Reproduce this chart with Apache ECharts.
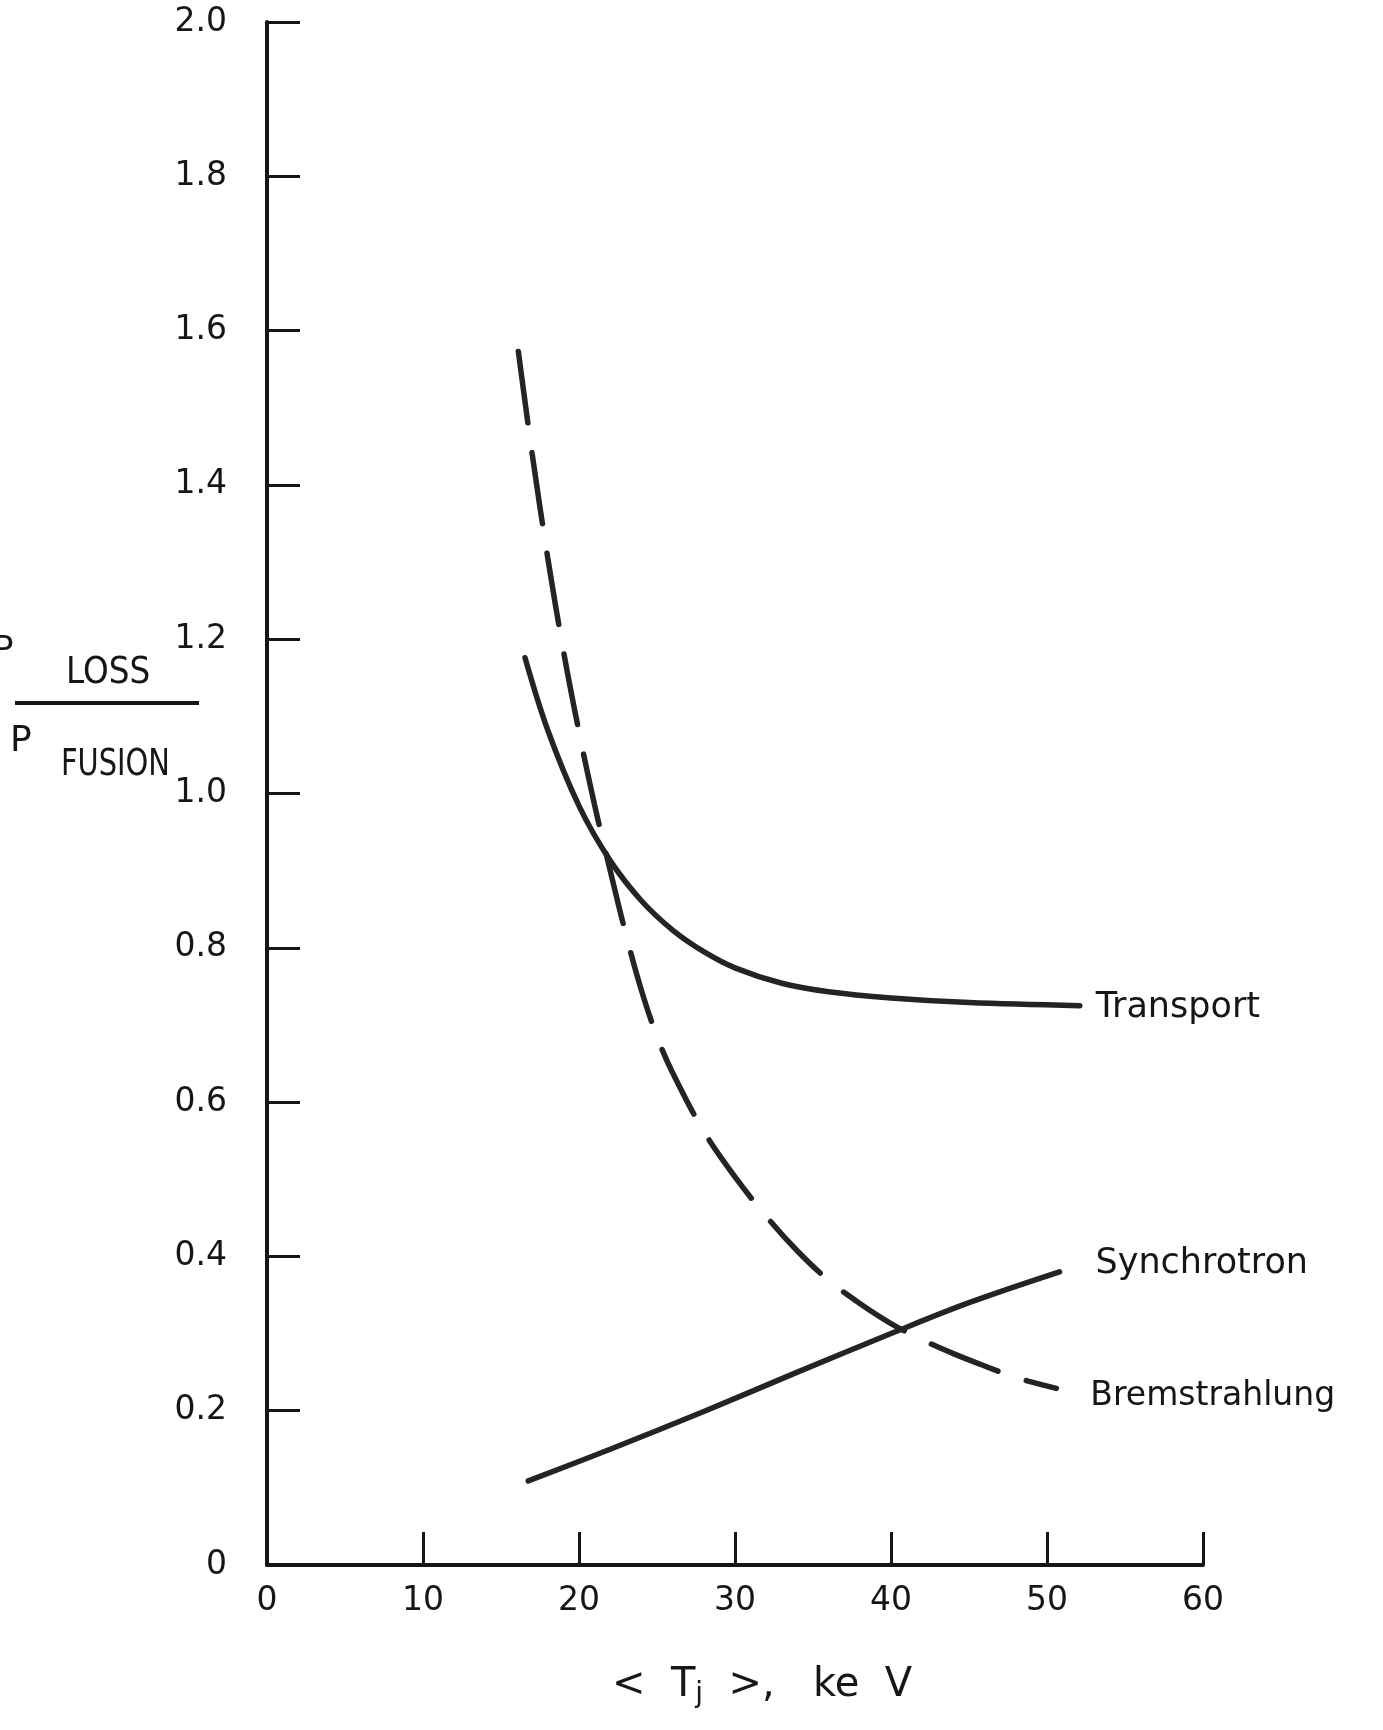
<!DOCTYPE html>
<html>
<head>
<meta charset="utf-8">
<script src="https://cdn.jsdelivr.net/npm/echarts@6/dist/echarts.min.js"></script>
<style>
  html, body { margin: 0; padding: 0; background: #fff; }
  #chart { width: 1383px; height: 1730px; }
</style>
</head>
<body>
<div id="chart"></div>
<script>
// ---- Data ----
const xTicks = [0, 10, 20, 30, 40, 50, 60];
const yTicks = [0, 0.2, 0.4, 0.6, 0.8, 1.0, 1.2, 1.4, 1.6, 1.8, 2.0];

const transportT = [16.54, 18, 20, 22, 24, 26, 28, 30, 33, 36, 40, 45, 52.1];
const transportV = [1.176, 1.082, 0.984, 0.913, 0.861, 0.823, 0.795, 0.774, 0.754, 0.743, 0.735, 0.729, 0.725];

const bremsT = [16.11, 17, 18, 19, 20, 21, 22, 23, 24, 25, 26, 28, 30, 32, 34, 36, 38, 40, 42, 44, 46, 48, 50.6];
const bremsV = [1.573, 1.44, 1.305, 1.185, 1.08, 0.985, 0.90, 0.818, 0.745, 0.685, 0.638, 0.562, 0.503, 0.452, 0.407, 0.369, 0.339, 0.313, 0.292, 0.274, 0.258, 0.243, 0.229];

const synchT = [16.75, 22, 28, 34, 40, 45, 50.8];
const synchV = [0.109, 0.150, 0.199, 0.250, 0.300, 0.340, 0.380];

const xName = '<  T{sub|j}  >,   ke  V';
const yNameTop = 'LOSS';
const yNameBottom = 'FUSION';

// ---- Helpers ----
const zip = (xs, ys) => xs.map((x, i) => [x, ys[i]]);
const FONT = 'DejaVu Sans';
const INK = '#161616';
const LINE = '#242424';

const chart = echarts.init(document.getElementById('chart'), null, { renderer: 'canvas' });

const lineBase = {
  type: 'line',
  smooth: 0.35,
  symbol: 'none',
  silent: true,
  animation: false
};

const option = {
  animation: false,
  backgroundColor: '#ffffff',
  grid: { left: 267, right: 180, top: 22, bottom: 165, containLabel: false },
  xAxis: {
    type: 'value',
    min: xTicks[0],
    max: xTicks[xTicks.length - 1],
    interval: 10,
    name: xName,
    nameLocation: 'middle',
    nameGap: 98,
    nameTextStyle: {
      fontFamily: FONT, fontSize: 40, color: INK,
      padding: [0, 0, 0, 54],
      rich: {
        sub: { fontFamily: FONT, fontSize: 28, color: INK, verticalAlign: 'bottom', padding: [18, 0, 0, 0] }
      }
    },
    axisLine: { show: true, onZero: false, lineStyle: { color: INK, width: 4 } },
    axisTick: { show: true, inside: true, length: 33, lineStyle: { color: INK, width: 3 } },
    axisLabel: { fontFamily: FONT, fontSize: 33, color: INK, margin: 20 },
    splitLine: { show: false }
  },
  yAxis: {
    type: 'value',
    min: yTicks[0],
    max: yTicks[yTicks.length - 1],
    interval: 0.2,
    axisLine: { show: true, onZero: false, lineStyle: { color: INK, width: 4 } },
    axisTick: { show: true, inside: true, length: 33, lineStyle: { color: INK, width: 3 } },
    axisLabel: {
      fontFamily: FONT, fontSize: 33, color: INK, margin: 40,
      formatter: v => (v === 0 ? '0' : v.toFixed(1))
    },
    splitLine: { show: false }
  },
  series: [
    Object.assign({}, lineBase, {
      name: 'Transport',
      data: zip(transportT, transportV),
      lineStyle: { color: LINE, width: 5.5, cap: 'round' },
      endLabel: { show: true, formatter: '{a}', fontFamily: FONT, fontSize: 35, color: INK, distance: 16, offset: [0, 2] }
    }),
    Object.assign({}, lineBase, {
      name: 'Bremstrahlung',
      data: zip(bremsT, bremsV),
      lineStyle: { color: LINE, width: 5.5, cap: 'round', type: [72, 30] },
      endLabel: { show: true, formatter: '{a}', fontFamily: FONT, fontSize: 33, color: INK, distance: 34, offset: [0, 8] }
    }),
    Object.assign({}, lineBase, {
      name: 'Synchrotron',
      data: zip(synchT, synchV),
      lineStyle: { color: LINE, width: 5.5, cap: 'round' },
      endLabel: { show: true, formatter: '{a}', fontFamily: FONT, fontSize: 35, color: INK, distance: 36, offset: [0, -8] }
    })
  ],
  graphic: [
    { type: 'text', x: -7, y: 634, style: { text: 'P', fontFamily: FONT, fontSize: 34, fill: INK } },
    { type: 'text', x: 66, y: 654, scaleX: 0.86, style: { text: yNameTop, fontFamily: FONT, fontSize: 38, fill: INK } },
    { type: 'line', shape: { x1: 15, y1: 703, x2: 199, y2: 703 }, style: { stroke: INK, lineWidth: 4 } },
    { type: 'text', x: 10, y: 724, style: { text: 'P', fontFamily: FONT, fontSize: 36, fill: INK } },
    { type: 'text', x: 61, y: 747, scaleX: 0.78, style: { text: yNameBottom, fontFamily: FONT, fontSize: 37, fill: INK } }
  ]
};

chart.setOption(option);
</script>
</body>
</html>
